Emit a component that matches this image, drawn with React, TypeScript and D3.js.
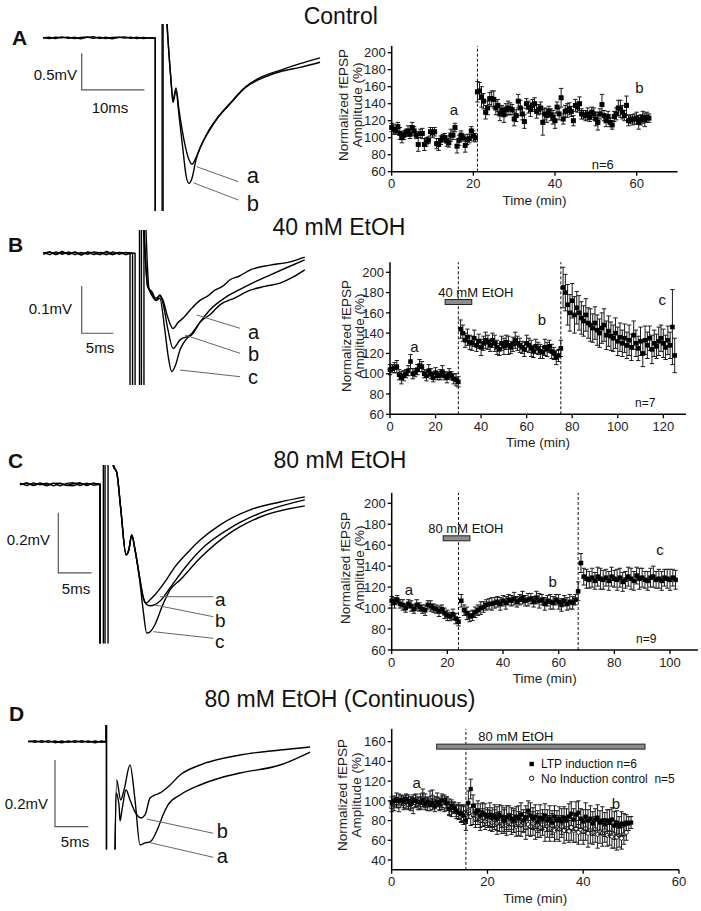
import React from "react";
import * as d3 from "d3";

const FONT = "'Liberation Sans', Arial, Helvetica, sans-serif";

// ---------------- Time-course data ----------------
// Panel A (Control): every 0.5 min, 0..63 min
const aValues = [
  112,110,108,113,105,100,103,106,108,104,112,108,103,92,105,105,92,95,97,107,106,107,93,92,97,100,100,96,94,103,103,112,90,97,103,100,91,98,99,108,102,100,
  154,155,148,143,130,135,146,146,145,135,138,128,132,127,133,135,134,133,122,126,143,135,128,119,140,136,133,138,140,131,
  133,135,118,128,126,131,127,124,120,136,128,147,122,131,132,134,131,120,138,136,140,128,127,126,128,124,130,128,122,118,
  128,139,126,120,125,118,115,125,128,135,134,130,126,138,120,122,121,122,123,118,121,124,121,124,123,
];
const aErrors = [
  5,6,4,5,7,6,5,4,6,5,6,5,4,8,5,6,7,5,4,5,6,5,6,7,5,4,5,6,5,7,5,5,8,6,5,4,8,6,5,5,6,5,
  12,10,12,9,8,8,7,9,10,8,7,8,6,9,7,8,7,6,8,7,8,9,7,8,6,7,8,7,7,8,6,7,15,7,8,6,7,8,9,6,
  7,11,6,7,8,7,6,6,7,6,8,6,5,6,7,5,6,7,8,9,6,12,6,7,6,5,5,6,7,9,10,8,6,11,6,5,6,6,7,8,6,7,8,6,5,
];
const aTimes = aValues.map((_, i) => i * 0.5);
const aEvents = [21];

// Panel B (40 mM EtOH): every 1 min, 0..125 min
const bValues = [
  104,105,106,107,99,96,98,100,103,112,100,101,104,108,107,100,98,103,100,96,101,98,99,102,98,96,100,98,95,94,92,
  144,140,133,136,131,130,135,128,132,126,130,133,131,128,133,130,126,124,130,127,131,128,126,129,133,130,128,126,124,130,
  128,125,122,127,125,122,121,126,124,127,122,120,116,118,125,
  185,180,168,160,172,158,165,160,155,152,158,150,148,145,150,143,140,145,148,138,142,137,135,140,132,136,130,135,128,133,
  126,138,130,125,132,120,133,128,135,124,130,127,132,135,130,126,133,128,146,118,
];
const bErrors = [
  5,4,5,6,5,6,5,4,5,7,5,4,5,6,5,4,5,6,5,4,5,4,5,6,4,5,5,4,5,6,5,
  9,8,7,8,7,7,8,6,7,8,7,8,7,6,7,8,7,6,7,8,7,9,6,7,8,7,7,6,7,8,7,8,6,7,6,7,6,8,7,6,7,6,7,6,8,
  20,18,20,18,17,18,16,17,16,15,16,15,16,14,16,15,14,15,16,14,15,14,13,15,14,14,13,14,13,15,
  13,14,13,12,14,13,14,13,12,14,13,12,14,13,14,12,14,13,37,17,
];
const bTimes = bValues.map((_, i) => i);
const bEvents = [30, 75];
const bDrug = [24.2, 35.9, 170.7];

// Panel C (80 mM EtOH): every 1 min, 0..102 min
const cValues = [
  107,105,108,104,103,100,104,102,99,103,101,99,98,103,102,100,99,97,99,95,93,92,94,90,87,
  107,98,95,92,93,96,98,100,101,103,104,104,105,106,104,107,105,108,107,109,106,108,110,107,108,109,106,110,107,108,
  104,107,106,105,108,106,103,107,104,106,105,108,
  116,143,130,128,127,129,126,130,128,127,129,126,130,128,127,129,125,127,130,128,126,131,128,129,127,126,129,130,127,128,
  126,129,128,127,129,127,
];
const cErrors = [
  4,5,4,4,5,4,4,5,4,5,4,4,5,4,5,4,4,5,4,5,5,4,5,5,4,
  6,5,6,5,5,5,5,6,5,5,5,6,5,5,6,5,6,5,5,6,5,5,6,5,6,5,5,6,7,5,6,5,7,6,5,7,6,5,6,7,6,5,
  9,9,8,9,8,9,8,9,10,9,8,9,9,8,10,9,9,8,9,10,9,8,10,9,8,9,9,10,8,9,9,8,9,10,8,9,
];
const cTimes = cValues.map((_, i) => i);
const cEvents = [24, 67];
const cDrug = [18.5, 28.1, 166.6];

// Panel D (continuous 80 mM EtOH): every 0.5 min
const dLtpValues = [
  98,100,102,100,101,99,102,100,97,101,100,99,98,101,97,99,96,98,95,99,
  97,100,101,98,92,95,93,90,88,87,85,80,98,112,95,88,90,85,88,86,
  84,86,83,85,82,86,84,80,83,85,82,80,84,82,86,80,83,90,85,82,
  84,79,83,81,85,80,82,78,84,80,82,79,83,80,84,87,81,86,88,82,
  79,84,80,82,77,81,83,78,80,76,80,78,81,75,78,74,77,76,78,77,78,
];
const dLtpErrors = [
  6,5,6,7,5,6,5,6,7,5,6,5,6,7,6,5,6,7,6,5,6,7,5,6,7,6,5,6,7,8,
  9,10,12,10,11,9,10,12,10,11,9,12,10,11,12,10,11,13,12,10,
  11,12,10,13,12,11,12,10,13,11,12,11,13,10,12,11,13,12,11,10,
  12,13,11,12,13,12,11,13,12,10,12,14,11,13,12,11,13,12,14,12,
  11,13,12,14,12,10,12,11,8,7,6,
];
const dCtlValues = [
  94,96,98,95,100,97,99,96,98,95,100,97,99,103,100,96,102,104,98,101,
  96,98,95,97,94,91,93,89,90,87,88,86,90,84,86,82,84,80,83,79,
  82,80,78,81,77,79,76,80,75,78,76,79,74,77,75,78,73,76,74,77,
  72,75,73,76,71,74,72,75,70,73,71,74,70,72,69,73,70,72,68,71,
  69,72,67,70,68,71,66,69,67,70,65,68,64,66,63,65,62,66,68,
];
const dCtlErrors = [
  5,6,5,6,5,6,7,5,6,8,7,6,8,9,7,6,8,7,6,7,6,7,6,7,8,7,6,7,8,9,
  8,9,8,9,10,9,8,10,9,8,9,10,9,10,11,10,9,11,10,9,
  10,11,10,12,11,10,12,11,10,12,11,12,10,11,12,11,13,12,11,12,
  12,11,13,12,11,13,12,14,12,11,13,12,14,13,12,13,14,12,13,12,
  11,13,12,14,13,12,11,10,8,
];
const dLtpTimes = dLtpValues.map((_, i) => i * 0.5);
const dCtlTimes = dCtlValues.map((_, i) => i * 0.5);
const dEvents = [15.5];
const dDrug = [9.4, 52.9, 155];

// ---------------- Trace data (ms, mV) ----------------
type Pt = [number, number];
const traceA_a: Pt[] = [[0,0],[1,0.012],[2,-0.008],[3,0.015],[4,-0.005],[5,0.01],[6,-0.012],[7,0.008],[8,0.018],[9,-0.006],[10,0.01],[11,-0.01],[12,0.006],[13,0.016],[14,-0.004],[15,0.01],[16,-0.008],[17,0.004],[17.9,0],[17.9,-2.6],[19.0,-2.6],[19.0,0.5],[19.5,0.5],[19.94,-0.03],[20.41,-0.57],[20.73,-0.85],[21.21,-0.68],[21.69,-0.98],[22.49,-1.39],[23.29,-1.66],[23.76,-1.72],[24.4,-1.63],[25.04,-1.5],[26.63,-1.23],[27.91,-1.08],[29.82,-0.9],[32.22,-0.68],[34.61,-0.56],[37.8,-0.46],[41.0,-0.4],[44.18,-0.33]];
const traceA_b: Pt[] = [[0,0.005],[1,-0.006],[2,0.01],[3,0.004],[4,0.012],[5,-0.008],[6,0.006],[7,0.014],[8,-0.004],[9,0.01],[10,-0.006],[11,0.008],[12,0.012],[13,-0.002],[14,0.01],[15,-0.006],[16,0.008],[17,-0.002],[17.9,0],[17.9,-2.6],[19.15,-2.6],[19.15,0.5],[19.6,0.5],[19.94,-0.03],[20.41,-0.57],[20.73,-0.88],[21.21,-0.72],[21.69,-1.05],[22.33,-1.53],[22.81,-1.87],[23.29,-1.98],[23.76,-1.91],[24.4,-1.66],[25.04,-1.5],[26.63,-1.25],[27.91,-1.08],[29.82,-0.89],[32.22,-0.67],[34.61,-0.54],[37.8,-0.44],[41.0,-0.35],[44.18,-0.27]];

const traceB_a: Pt[] = [[0,0],[1,0.003],[2,-0.002],[3,0.004],[4,-0.003],[5,0.002],[6,-0.004],[7,0.003],[8,0.001],[9,-0.003],[10,0.004],[11,-0.002],[12,0.002],[13,-0.003],[13.7,0],[13.7,-0.4],[15.2,-0.4],[15.2,0.1],[15.6,0.1],[15.9,0.035],[16.5,-0.071],[17.2,-0.082],[17.8,-0.099],[18.4,-0.088],[18.9,-0.099],[19.7,-0.137],[20.5,-0.159],[21.3,-0.146],[22.1,-0.137],[23.2,-0.12],[24.8,-0.099],[26,-0.09],[27.1,-0.078],[28.3,-0.07],[29.5,-0.056],[31,-0.048],[32.7,-0.035],[35.8,-0.025],[39,-0.018],[41.3,-0.008]];
const traceB_b: Pt[] = [[0,0.002],[1,-0.003],[2,0.003],[3,-0.002],[4,0.003],[5,-0.003],[6,0.002],[7,-0.002],[8,0.003],[9,0.001],[10,-0.003],[11,0.003],[12,-0.002],[13,0.002],[14.1,0],[14.1,-0.4],[15.5,-0.4],[15.5,0.1],[15.8,0.1],[16.0,0.03],[16.5,-0.071],[17.2,-0.085],[17.8,-0.095],[18.4,-0.09],[18.9,-0.105],[19.7,-0.162],[20.5,-0.201],[21.6,-0.183],[23.2,-0.173],[24.8,-0.145],[26.3,-0.12],[28.7,-0.094],[31,-0.077],[33.5,-0.06],[35.8,-0.046],[38.5,-0.03],[41.3,-0.014]];
const traceB_c: Pt[] = [[0,-0.002],[1,0.003],[2,-0.003],[3,0.002],[4,-0.001],[5,0.003],[6,-0.002],[7,0.002],[8,-0.003],[9,0.002],[10,0.001],[11,-0.003],[12,0.002],[13,0.001],[14.5,0],[14.5,-0.4],[15.9,-0.4],[15.9,0.1],[16.1,0.1],[16.3,0.02],[16.7,-0.075],[17.2,-0.09],[17.8,-0.1],[18.4,-0.095],[19.2,-0.162],[19.7,-0.215],[20.3,-0.25],[20.9,-0.236],[21.6,-0.204],[22.5,-0.183],[23.6,-0.17],[24.8,-0.145],[26.3,-0.13],[27.9,-0.109],[30.3,-0.094],[32.7,-0.078],[35,-0.07],[37.4,-0.063],[39.5,-0.05],[41.3,-0.035]];

const traceC_a: Pt[] = [[0,0],[1,0.004],[2,-0.004],[3,0.005],[4,-0.003],[5,0.004],[6,-0.005],[7,0.003],[8,0.005],[9,-0.004],[10,0.004],[11,-0.003],[12,0],[12,-0.7],[12.5,-0.7],[12.5,0.15],[13.6,0.15],[14.0,0.06],[14.5,0.04],[15.1,-0.08],[15.9,-0.235],[16.3,-0.22],[16.75,-0.169],[17.25,-0.219],[18.0,-0.319],[18.5,-0.379],[18.9,-0.396],[19.5,-0.385],[20.2,-0.369],[21.7,-0.326],[23.2,-0.276],[25.5,-0.219],[27,-0.186],[30,-0.135],[34.5,-0.085],[39,-0.059],[42.7,-0.042]];
const traceC_b: Pt[] = [[0,0.003],[1,-0.004],[2,0.005],[3,-0.002],[4,0.004],[5,-0.005],[6,0.003],[7,-0.004],[8,0.002],[9,0.005],[10,-0.004],[11,0.003],[12,0],[12,-0.7],[12.75,-0.7],[12.75,0.15],[13.7,0.15],[14.0,0.06],[14.5,0.04],[15.1,-0.08],[15.9,-0.235],[16.3,-0.22],[16.75,-0.169],[17.25,-0.219],[18.0,-0.319],[18.5,-0.379],[18.9,-0.399],[19.5,-0.405],[21.0,-0.389],[22.5,-0.345],[24.7,-0.279],[27.7,-0.206],[31.5,-0.146],[36,-0.096],[42.7,-0.052]];
const traceC_c: Pt[] = [[0,-0.002],[1,0.005],[2,-0.003],[3,0.002],[4,-0.005],[5,0.003],[6,0.004],[7,-0.003],[8,-0.005],[9,0.003],[10,-0.002],[11,0.004],[12,0],[12,-0.7],[13.2,-0.7],[13.2,0.15],[13.8,0.15],[14.1,0.06],[14.5,0.04],[15.1,-0.08],[15.9,-0.235],[16.3,-0.22],[16.75,-0.169],[17.25,-0.219],[18.0,-0.33],[18.5,-0.426],[19.0,-0.496],[19.5,-0.492],[20.2,-0.469],[21.4,-0.402],[22.5,-0.352],[24,-0.319],[27,-0.246],[31.5,-0.162],[36,-0.109],[42.7,-0.072]];

const traceD_a: Pt[] = [[0,0],[1,0.003],[2,-0.002],[3,0.003],[4,-0.003],[5,0.002],[6,-0.002],[7,0.003],[8,-0.002],[9,0.002],[10,-0.003],[11,0.002],[11.65,0],[11.65,0.1],[11.72,0.1],[11.72,-0.5],[12.9,-0.5],[13.25,-0.115],[13.85,-0.175],[14.35,-0.145],[15.25,-0.07],[16.0,-0.175],[16.75,-0.31],[17.5,-0.304],[18.25,-0.301],[19.45,-0.259],[20.2,-0.22],[20.95,-0.19],[22.75,-0.16],[25.75,-0.13],[28.75,-0.109],[31.75,-0.094],[37.75,-0.07],[42.25,-0.031]];
const traceD_b: Pt[] = [[0,0.002],[1,-0.002],[2,0.003],[3,-0.002],[4,0.002],[5,-0.003],[6,0.002],[7,-0.002],[8,0.003],[9,-0.002],[10,0.002],[11,-0.002],[11.65,0],[11.65,0.1],[11.72,0.1],[11.72,-0.5],[12.9,-0.5],[13.15,-0.154],[13.6,-0.19],[13.75,-0.238],[14.05,-0.205],[14.65,-0.145],[15.25,-0.175],[16.0,-0.211],[16.9,-0.229],[17.5,-0.22],[18.25,-0.169],[19,-0.16],[19.75,-0.154],[21.25,-0.13],[22.75,-0.1],[25.75,-0.07],[31.75,-0.04],[37.75,-0.025],[42.25,-0.016]];

// ---------------- Components ----------------
type Series = { t: number[]; v: number[]; e: number[]; shape: "square" | "circle"; size: number };

function TimeCourse(p: {
  x: d3.ScaleLinear<number, number>; y: d3.ScaleLinear<number, number>;
  yLo: number; yHi: number; xHi: number; xTicks: number[]; yTicks: number[];
  series: Series[]; events: number[]; drug?: number[]; titleOff: [number, number]; titleCy: number;
}) {
  const { x, y } = p;
  const x0 = x(0), yb = y(p.yLo), yt = y(p.yHi), xr = x(p.xHi);
  return (
    <g>
      {p.events.map((ev, i) => (
        <line key={"ev" + i} x1={x(ev)} x2={x(ev)} y1={yb} y2={yt} stroke="#111" strokeWidth={1} strokeDasharray="3,2" />
      ))}
      {p.drug && (
        <rect x={x(p.drug[0])} width={x(p.drug[1]) - x(p.drug[0])} y={y(p.drug[2]) - 2.5} height={5} fill="#8c8c8c" stroke="#222" strokeWidth={1} />
      )}
      {p.series.map((s, si) => (
        <g key={"s" + si}>
          <g stroke="#1a1a1a" strokeWidth={1}>
            {s.t.map((t, i) => {
              const cx = x(t), y1 = y(s.v[i] - s.e[i]), y2 = y(s.v[i] + s.e[i]);
              return (
                <g key={i}>
                  <line x1={cx} x2={cx} y1={y1} y2={y2} />
                  <line x1={cx - 2.2} x2={cx + 2.2} y1={y2} y2={y2} />
                  <line x1={cx - 2.2} x2={cx + 2.2} y1={y1} y2={y1} />
                </g>
              );
            })}
          </g>
          {s.t.map((t, i) =>
            s.shape === "square" ? (
              <rect key={i} x={x(t) - s.size / 2} y={y(s.v[i]) - s.size / 2} width={s.size} height={s.size} fill="#000" />
            ) : (
              <circle key={i} cx={x(t)} cy={y(s.v[i])} r={s.size / 2} fill="#fff" stroke="#000" strokeWidth={0.8} />
            )
          )}
        </g>
      ))}
      <line x1={x0} x2={x0} y1={yb} y2={yt} stroke="#000" strokeWidth={1.5} />
      <line x1={x0} x2={xr} y1={yb} y2={yb} stroke="#000" strokeWidth={1.5} />
      {p.yTicks.map((v) => (
        <g key={"yt" + v}>
          <line x1={x0 - 4} x2={x0} y1={y(v)} y2={y(v)} stroke="#000" strokeWidth={1.3} />
          <text x={x0 - 6} y={y(v)} dy="0.36em" textAnchor="end" fontSize={13} fill="#222">{v}</text>
        </g>
      ))}
      {p.xTicks.map((v) => (
        <g key={"xt" + v}>
          <line x1={x(v)} x2={x(v)} y1={yb} y2={yb + 4} stroke="#000" strokeWidth={1.3} />
          <text x={x(v)} y={yb + 16.5} textAnchor="middle" fontSize={13} fill="#222">{v}</text>
        </g>
      ))}
      <text x={(x0 + xr) / 2} y={yb + 33} textAnchor="middle" fontSize={13.5} fill="#222">Time (min)</text>
      <text transform={`translate(${x0 + p.titleOff[0]},${p.titleCy}) rotate(-90)`} textAnchor="middle" fontSize={13.5} fill="#222">Normalized fEPSP</text>
      <text transform={`translate(${x0 + p.titleOff[1]},${p.titleCy}) rotate(-90)`} textAnchor="middle" fontSize={13.5} fill="#222">Amplitude (%)</text>
    </g>
  );
}

function TraceView(p: {
  id: string; x: d3.ScaleLinear<number, number>; y: d3.ScaleLinear<number, number>;
  traces: Pt[][]; clip: [number, number]; bar: [number, number, number, number]; vText: string; tText: string;
  vLabel: [number, number]; tLabel: [number, number];
  leaders: [number, number, number, number][]; labels: { s: string; x: number; y: number }[]; labelSize: number;
}) {
  const { x, y } = p;
  const lin = d3.line<Pt>().x((d) => x(d[0])).y((d) => y(d[1]));
  const mono = d3.line<Pt>().x((d) => x(d[0])).y((d) => y(d[1])).curve(d3.curveMonotoneX);
  const [t0, v0, tl, vl] = p.bar;
  const pathFor = (tr: Pt[]) => {
    let k = 0;
    tr.forEach((d, i) => {
      const yy = y(d[1]);
      if (yy < p.clip[0] || yy > p.clip[1]) k = i;
    });
    return (lin(tr.slice(0, k + 1)) || "") + (mono(tr.slice(k)) || "");
  };
  return (
    <g>
      <clipPath id={p.id}>
        <rect x={0} y={p.clip[0]} width={340} height={p.clip[1] - p.clip[0]} />
      </clipPath>
      <g clipPath={`url(#${p.id})`}>
        {p.traces.map((tr, i) => (
          <path key={i} d={pathFor(tr)} fill="none" stroke="#000" strokeWidth={1.4} strokeLinejoin="round" />
        ))}
      </g>
      <path d={`M${x(t0)},${y(v0 + vl)}V${y(v0)}H${x(t0 + tl)}`} fill="none" stroke="#555" strokeWidth={1.2} />
      <text x={p.vLabel[0]} y={p.vLabel[1]} textAnchor="end" fontSize={15} fill="#111">{p.vText}</text>
      <text x={p.tLabel[0]} y={p.tLabel[1]} textAnchor="middle" fontSize={15} fill="#111">{p.tText}</text>
      {p.leaders.map((l, i) => (
        <line key={i} x1={l[0]} y1={l[1]} x2={l[2]} y2={l[3]} stroke="#666" strokeWidth={1} />
      ))}
      {p.labels.map((l, i) => (
        <text key={i} x={l.x} y={l.y} fontSize={p.labelSize} fill="#111">{l.s}</text>
      ))}
    </g>
  );
}

export default function App() {
  const xA = d3.scaleLinear().domain([0, 70]).range([391.7, 677.5]);
  const yA = d3.scaleLinear().domain([60, 200]).range([171.7, 52.7]);
  const xB = d3.scaleLinear().domain([0, 120]).range([390, 663.3]);
  const yB = d3.scaleLinear().domain([60, 200]).range([414.3, 272.3]);
  const xC = d3.scaleLinear().domain([0, 100]).range([391.7, 670]);
  const yC = d3.scaleLinear().domain([60, 200]).range([650, 503.3]);
  const xD = d3.scaleLinear().domain([0, 60]).range([391.7, 679]);
  const yD = d3.scaleLinear().domain([40, 160]).range([860, 741.7]);

  const txA = d3.scaleLinear().domain([0, 45]).range([43, 43 + 45 * 6.27]);
  const tyA = d3.scaleLinear().domain([0, -1]).range([38, 111.4]);
  const txB = d3.scaleLinear().domain([0, 45]).range([43.3, 43.3 + 45 * 6.33]);
  const tyB = d3.scaleLinear().domain([0, -0.1]).range([253.3, 300.6]);
  const txC = d3.scaleLinear().domain([0, 45]).range([20, 20 + 45 * 6.67]);
  const tyC = d3.scaleLinear().domain([0, -0.1]).range([484.3, 514.3]);
  const txD = d3.scaleLinear().domain([0, 45]).range([28.3, 28.3 + 45 * 6.67]);
  const tyD = d3.scaleLinear().domain([0, -0.1]).range([741.7, 775]);

  const yt200 = [60, 80, 100, 120, 140, 160, 180, 200];

  return (
    <svg width={701} height={911} style={{ position: "absolute", left: 0, top: 0, display: "block", fontFamily: FONT }}>
      <rect width={701} height={911} fill="#fff" />
      {/* Titles */}
      <text x={340.8} y={23.5} textAnchor="middle" fontSize={23} fill="#111">Control</text>
      <text x={339} y={235} textAnchor="middle" fontSize={23} fill="#111">40 mM EtOH</text>
      <text x={340} y={468} textAnchor="middle" fontSize={23} fill="#111">80 mM EtOH</text>
      <text x={340} y={706.5} textAnchor="middle" fontSize={23} fill="#111">80 mM EtOH (Continuous)</text>
      {/* Panel letters */}
      <text x={12} y={45} fontSize={21} fontWeight="bold" fill="#111">A</text>
      <text x={8} y={252} fontSize={21} fontWeight="bold" fill="#111">B</text>
      <text x={8} y={468} fontSize={21} fontWeight="bold" fill="#111">C</text>
      <text x={9} y={721} fontSize={21} fontWeight="bold" fill="#111">D</text>

      {/* Traces */}
      <TraceView id="clipA" x={txA} y={tyA} traces={[traceA_a, traceA_b]} clip={[24, 211]}
        bar={[6.17, -0.708, 10, 0.5]} vText="0.5mV" tText="10ms" vLabel={[77, 80]} tLabel={[110, 113]}
        leaders={[[196.7, 166.7, 238.3, 181.7], [193.3, 182.7, 238.3, 200]]}
        labels={[{ s: "a", x: 246.7, y: 183.3 }, { s: "b", x: 246.7, y: 210.5 }]} labelSize={22} />
      <TraceView id="clipB" x={txB} y={tyB} traces={[traceB_a, traceB_b, traceB_c]} clip={[230, 385]}
        bar={[6.07, -0.169, 5, 0.1]} vText="0.1mV" tText="5ms" vLabel={[72, 314]} tLabel={[100, 353]}
        leaders={[[196.7, 315, 240, 328.3], [185, 335, 240, 353.3], [180, 370, 240, 376.7]]}
        labels={[{ s: "a", x: 248, y: 338.5 }, { s: "b", x: 248, y: 360.5 }, { s: "c", x: 248, y: 384 }]} labelSize={20} />
      <TraceView id="clipC" x={txC} y={tyC} traces={[traceC_a, traceC_b, traceC_c]} clip={[465, 643.5]}
        bar={[5.74, -0.295, 5, 0.2]} vText="0.2mV" tText="5ms" vLabel={[50, 544.5]} tLabel={[76, 593.5]}
        leaders={[[160, 596.7, 213.3, 596.7], [155, 605, 213.3, 616.7], [153.3, 631.7, 213.3, 638.3]]}
        labels={[{ s: "a", x: 215, y: 606 }, { s: "b", x: 215, y: 627 }, { s: "c", x: 215, y: 648.3 }]} labelSize={19} />
      <TraceView id="clipD" x={txD} y={tyD} traces={[traceD_a, traceD_b]} clip={[725, 849.5]}
        bar={[4.0, -0.255, 5, 0.2]} vText="0.2mV" tText="5ms" vLabel={[48, 808.5]} tLabel={[75, 847]}
        leaders={[[146.7, 819, 213.3, 833.3], [150, 842.7, 213.3, 857.3]]}
        labels={[{ s: "b", x: 216.7, y: 838.3 }, { s: "a", x: 216.7, y: 863.3 }]} labelSize={20} />

      {/* Time courses */}
      <TimeCourse x={xA} y={yA} yLo={60} yHi={208} xHi={70} xTicks={[0, 20, 40, 60]} yTicks={yt200}
        series={[{ t: aTimes, v: aValues, e: aErrors, shape: "square", size: 5 }]} events={aEvents}
        titleOff={[-43.5, -29.5]} titleCy={105} />
      <text x={454} y={115} textAnchor="middle" fontSize={15} fill="#111">a</text>
      <text x={639.3} y={93} textAnchor="middle" fontSize={15} fill="#111">b</text>
      <text x={591.7} y={169} fontSize={13} fill="#111">n=6</text>

      <TimeCourse x={xB} y={yB} yLo={60} yHi={210} xHi={130} xTicks={[0, 20, 40, 60, 80, 100, 120]} yTicks={yt200}
        series={[{ t: bTimes, v: bValues, e: bErrors, shape: "square", size: 4.6 }]} events={bEvents} drug={bDrug}
        titleOff={[-39.5, -26]} titleCy={336} />
      <text x={438.3} y={296.7} fontSize={13} fill="#111">40 mM EtOH</text>
      <text x={414.3} y={352} textAnchor="middle" fontSize={15} fill="#111">a</text>
      <text x={542} y={325} textAnchor="middle" fontSize={15} fill="#111">b</text>
      <text x={662.3} y={305} textAnchor="middle" fontSize={15} fill="#111">c</text>
      <text x={635} y={407} fontSize={12} fill="#111">n=7</text>

      <TimeCourse x={xC} y={yC} yLo={60} yHi={210} xHi={110} xTicks={[0, 20, 40, 60, 80, 100]} yTicks={yt200}
        series={[{ t: cTimes, v: cValues, e: cErrors, shape: "square", size: 4.6 }]} events={cEvents} drug={cDrug}
        titleOff={[-41.5, -28]} titleCy={568} />
      <text x={428.3} y={533.3} fontSize={13} fill="#111">80 mM EtOH</text>
      <text x={409} y={595} textAnchor="middle" fontSize={15} fill="#111">a</text>
      <text x={552.7} y={587} textAnchor="middle" fontSize={15} fill="#111">b</text>
      <text x={660} y={555} textAnchor="middle" fontSize={15} fill="#111">c</text>
      <text x={636} y={643} fontSize={12} fill="#111">n=9</text>

      <TimeCourse x={xD} y={yD} yLo={30} yHi={173} xHi={60} xTicks={[0, 20, 40, 60]} yTicks={[40, 60, 80, 100, 120, 140, 160]}
        series={[
          { t: dCtlTimes, v: dCtlValues, e: dCtlErrors, shape: "circle", size: 4 },
          { t: dLtpTimes, v: dLtpValues, e: dLtpErrors, shape: "square", size: 4.2 },
        ]} events={dEvents} drug={dDrug}
        titleOff={[-45, -31]} titleCy={795} />
      <text x={478.3} y={740.7} fontSize={13} fill="#111">80 mM EtOH</text>
      <rect x={529.5} y={761.8} width={4.4} height={4.4} fill="#000" />
      <text x={541} y={768} fontSize={12} fill="#111" style={{ whiteSpace: "pre" }}>LTP induction n=6</text>
      <circle cx={531.7} cy={778.3} r={2.2} fill="#fff" stroke="#000" strokeWidth={0.9} />
      <text x={541} y={782.5} fontSize={12} fill="#111" style={{ whiteSpace: "pre" }}>No Induction control  n=5</text>
      <text x={416.7} y={788} textAnchor="middle" fontSize={15} fill="#111">a</text>
      <text x={616} y={809} textAnchor="middle" fontSize={15} fill="#111">b</text>
    </svg>
  );
}
